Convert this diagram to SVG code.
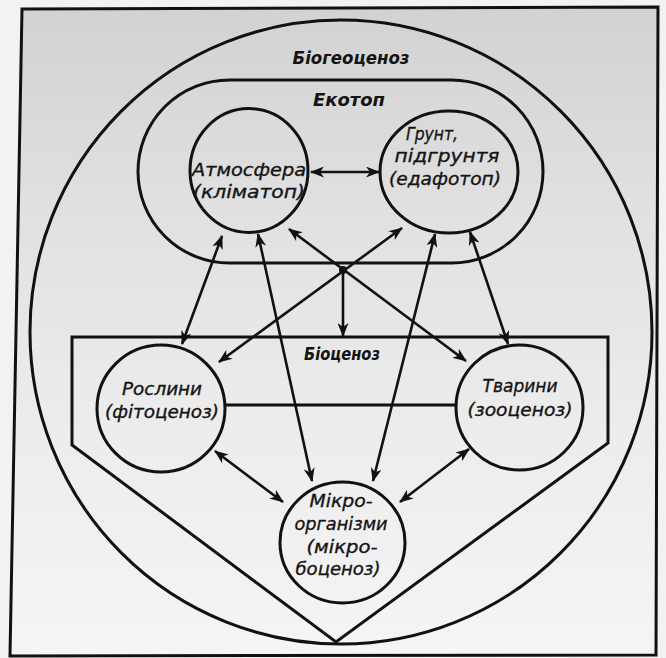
<svg xmlns="http://www.w3.org/2000/svg" width="666" height="658" viewBox="0 0 666 658">
<defs>
<linearGradient id="bg" x1="0" y1="0" x2="0" y2="1">
<stop offset="0" stop-color="#d2d2d2"/>
<stop offset="0.3" stop-color="#e0e0e0"/>
<stop offset="0.6" stop-color="#ebebeb"/>
<stop offset="1" stop-color="#f5f5f5"/>
</linearGradient>
<marker id="ah" viewBox="0 0 14 11" refX="13" refY="5.5" markerWidth="14" markerHeight="11" markerUnits="userSpaceOnUse" orient="auto-start-reverse">
<path d="M0,0 L14,5.5 L0,11 L4,5.5 Z" fill="#111"/>
</marker>
<style>
.ln{fill:none;stroke:#111;stroke-width:3}
.ar{fill:none;stroke:#111;stroke-width:2.6;marker-start:url(#ah);marker-end:url(#ah)}
.ar1{fill:none;stroke:#111;stroke-width:2.6;marker-end:url(#ah)}
.t{font-family:"DejaVu Sans","Liberation Sans",sans-serif;font-style:italic;font-size:18px;fill:#141414;stroke:#141414;stroke-width:0.35}
.tb{font-family:"DejaVu Sans","Liberation Sans",sans-serif;font-style:italic;font-weight:bold;font-size:18px;fill:#141414}
</style>
</defs>
<rect x="0" y="0" width="666" height="658" fill="#f2f2f2"/>
<path d="M22,9 L658,7 L656,655 L10,656 Z" fill="url(#bg)"/>
<path id="frame" class="ln" d="M22,9 L658,7 L656,655 L10,656 Z"/>

<g id="biogeocenoz">
<ellipse class="ln" cx="341" cy="332" rx="311" ry="312"/>
<text class="tb" x="351" y="64" text-anchor="middle" textLength="117" lengthAdjust="spacingAndGlyphs">Біогеоценоз</text>
</g>

<g id="ekotop">
<rect class="ln" x="138" y="80" width="405" height="183" rx="91.5" ry="91.5"/>
<text class="tb" x="349" y="106" text-anchor="middle" textLength="72" lengthAdjust="spacingAndGlyphs">Екотоп</text>
</g>

<g id="biocenoz">
<path class="ln" d="M72,337 L608,337 L608,443 L336,642 L72,445 Z"/>
<line class="ln" x1="225" y1="405" x2="456" y2="405"/>
<text class="tb" x="342" y="360" text-anchor="middle" textLength="76" lengthAdjust="spacingAndGlyphs">Біоценоз</text>
</g>

<g id="atmosfera">
<ellipse class="ln" cx="249" cy="170.5" rx="59" ry="62"/>
<text class="t" x="249" y="176" text-anchor="middle" textLength="114" lengthAdjust="spacingAndGlyphs">Атмосфера</text>
<text class="t" x="249" y="198" text-anchor="middle" textLength="112" lengthAdjust="spacingAndGlyphs">(кліматоп)</text>
</g>

<g id="grunt">
<ellipse class="ln" cx="449" cy="172" rx="69" ry="61"/>
<text class="t" x="432" y="140" text-anchor="middle" textLength="52" lengthAdjust="spacingAndGlyphs">Грунт,</text>
<text class="t" x="447" y="162" text-anchor="middle" textLength="105" lengthAdjust="spacingAndGlyphs">підгрунтя</text>
<text class="t" x="445" y="185" text-anchor="middle" textLength="112" lengthAdjust="spacingAndGlyphs">(едафотоп)</text>
</g>

<g id="roslyny">
<ellipse class="ln" cx="161" cy="408.5" rx="64" ry="63.5"/>
<text class="t" x="162" y="395" text-anchor="middle" textLength="80" lengthAdjust="spacingAndGlyphs">Рослини</text>
<text class="t" x="162" y="418" text-anchor="middle" textLength="114" lengthAdjust="spacingAndGlyphs">(фітоценоз)</text>
</g>

<g id="tvaryny">
<ellipse class="ln" cx="519.5" cy="407.5" rx="63.5" ry="62.5"/>
<text class="t" x="520" y="392" text-anchor="middle" textLength="75" lengthAdjust="spacingAndGlyphs">Тварини</text>
<text class="t" x="520" y="416" text-anchor="middle" textLength="105" lengthAdjust="spacingAndGlyphs">(зооценоз)</text>
</g>

<g id="mikro">
<ellipse class="ln" cx="342.5" cy="542.5" rx="62.5" ry="60.5"/>
<text class="t" x="341" y="507" text-anchor="middle" textLength="63" lengthAdjust="spacingAndGlyphs">Мікро-</text>
<text class="t" x="341" y="530" text-anchor="middle" textLength="93" lengthAdjust="spacingAndGlyphs">організми</text>
<text class="t" x="342" y="553" text-anchor="middle" textLength="71" lengthAdjust="spacingAndGlyphs">(мікро-</text>
<text class="t" x="338" y="575" text-anchor="middle" textLength="85" lengthAdjust="spacingAndGlyphs">боценоз)</text>
</g>

<g id="connectors">
<line class="ar" x1="311" y1="172" x2="379" y2="172"/>
<line class="ar" x1="222" y1="236" x2="182" y2="344"/>
<line class="ar" x1="258" y1="234" x2="312" y2="481"/>
<line class="ar" x1="289" y1="229" x2="466" y2="361"/>
<line class="ar" x1="402" y1="228" x2="219" y2="362"/>
<line class="ar" x1="435" y1="234" x2="373" y2="481"/>
<line class="ar" x1="470" y1="232" x2="508" y2="344"/>
<line class="ar" x1="215" y1="451" x2="283" y2="502"/>
<line class="ar" x1="469" y1="449" x2="400" y2="502"/>
<line class="ar1" x1="343" y1="270" x2="343" y2="336"/>
<circle cx="343" cy="270" r="4" fill="#111"/>
</g>
</svg>
